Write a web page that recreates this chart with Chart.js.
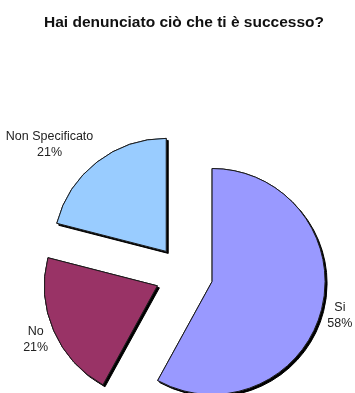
<!DOCTYPE html>
<html>
<head>
<meta charset="utf-8">
<script src="https://cdn.jsdelivr.net/npm/chart.js@4"></script>
<style>
  html,body{margin:0;padding:0;background:#fff;}
  #wrap{width:355px;height:393px;position:relative;}
</style>
</head>
<body>
<div id="wrap"><canvas id="pie" width="355" height="393"></canvas></div>
<script>
// ================== Data ==================
const labels = ["Si", "No", "Non Specificato"];
const values = [58, 21, 21];
const colors = ["#9999ff", "#993366", "#99ccff"];
const titleText = "Hai denunciato ciò che ti è successo?";

// explode distance in px (done by hand: Chart.js' own offset also grows big slices)
const explode = 29;

function midAngle(arc){
  const p = arc.getProps(["startAngle","endAngle"], true);
  return (p.startAngle + p.endAngle)/2;
}

// =============== Exploded slices with a 3D-ish drop shadow ===============
const explodePlugin = {
  id: "explode",
  beforeDatasetDraw(chart, args){
    const ctx = chart.ctx;
    // pass 0: shadow only, pass 1: clean slice on top
    [true, false].forEach(withShadow=>{
      ctx.save();
      if(withShadow){
        ctx.shadowColor = "#000";
        ctx.shadowOffsetX = 2;
        ctx.shadowOffsetY = 2;
        ctx.shadowBlur = 0;
      }
      args.meta.data.forEach(arc=>{
        const mid = midAngle(arc);
        ctx.save();
        ctx.translate(Math.cos(mid)*explode, Math.sin(mid)*explode);
        arc.draw(ctx);
        ctx.restore();
      });
      ctx.restore();
    });
    return false;
  }
};

// =============== Outside labels (name + percent) ===============
const outLabels = {
  id: "outLabels",
  afterDatasetsDraw(chart){
    const ctx = chart.ctx;
    const meta = chart.getDatasetMeta(0);
    const total = values.reduce((a,b)=>a+b,0);
    ctx.save();
    ctx.font = "12.5px 'Liberation Sans', Arial, sans-serif";
    ctx.fillStyle = "#222";
    ctx.textAlign = "center";
    ctx.textBaseline = "middle";
    meta.data.forEach((arc,i)=>{
      const p = arc.getProps(["x","y","outerRadius"], true);
      const mid = midAngle(arc);
      const dx = Math.cos(mid), dy = Math.sin(mid);
      const cx0 = p.x + dx*explode, cy0 = p.y + dy*explode;
      const r = p.outerRadius + 6;
      const ax = cx0 + dx*r, ay = cy0 + dy*r;
      const lines = [labels[i], Math.round(values[i]/total*100) + "%"];
      const w = Math.max(...lines.map(t=>ctx.measureText(t).width));
      const lh = 16, h = lh*lines.length;
      const cx = ax + Math.sign(dx)*w/2;
      const cy = ay + dy*h/2;
      lines.forEach((t,k)=>ctx.fillText(t, cx, cy - h/2 + lh/2 + k*lh));
    });
    ctx.restore();
  }
};

new Chart(document.getElementById("pie").getContext("2d"), {
  type: "pie",
  data: {
    labels,
    datasets: [{
      data: values,
      backgroundColor: colors,
      borderColor: "#1a1a1a",
      borderWidth: 1
    }]
  },
  options: {
    responsive: false,
    animation: false,
    radius: 113,
    layout: { padding: { left: 13, right: 0, top: 0, bottom: 0 } },
    plugins: {
      legend: { display: false },
      tooltip: { enabled: false },
      title: {
        display: true,
        text: titleText,
        color: "#111",
        font: { family: "'Liberation Sans', Arial, sans-serif", size: 15.5, weight: "bold" },
        padding: { top: 13, bottom: 124 }
      }
    }
  },
  plugins: [explodePlugin, outLabels]
});
</script>
</body>
</html>
